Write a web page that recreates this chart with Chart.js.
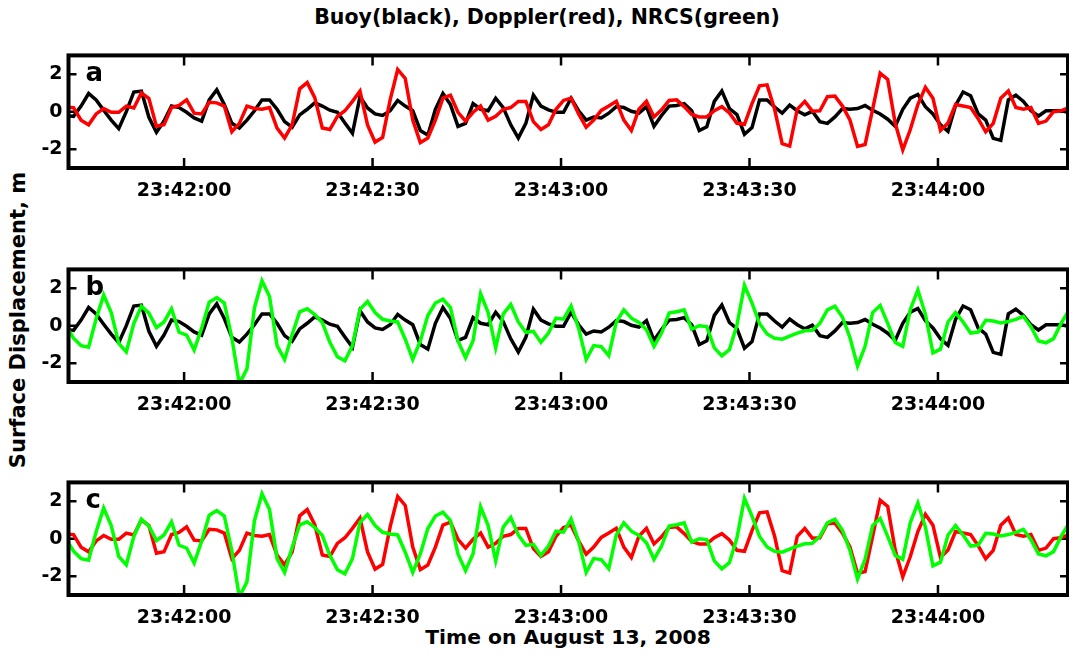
<!DOCTYPE html>
<html>
<head>
<meta charset="utf-8">
<script src="https://cdn.jsdelivr.net/npm/chart.js@4.4.1/dist/chart.umd.min.js"></script>
<style>
  body { margin: 0; background: #fff; width: 1069px; height: 654px; overflow: hidden; position: relative;
         font-family: "DejaVu Sans", sans-serif; font-weight: bold; color: #000; }
  canvas { position: absolute; left: 0; }
  #titulo { position: absolute; top: 7px; left: 0; width: 1094px; text-align: center; font-size: 20.5px; line-height: 20px; white-space: nowrap; }
  #ejeX { position: absolute; top: 627px; left: 0; width: 1136px; text-align: center; font-size: 20.3px; line-height: 20px; white-space: nowrap; }
  #ejeY { position: absolute; left: 18px; top: 320px; font-size: 21px; line-height: 21px; white-space: nowrap;
          transform: translate(-50%, -50%) rotate(-90deg); }
</style>
</head>
<body>
<div id="titulo">Buoy(black), Doppler(red), NRCS(green)</div>
<div id="ejeY">Surface Displacement, m</div>
<div id="ejeX">Time on August 13, 2008</div>
<canvas id="panelA" width="1069" height="170" style="top:38px"></canvas>
<canvas id="panelB" width="1069" height="170" style="top:252px"></canvas>
<canvas id="panelC" width="1069" height="170" style="top:465px"></canvas>
<script>
// seconds after 23:41:40, one sample every 1.2 s
const t0 = 1.2;
const dt = 1.2;

const xTickSec = [20, 50, 80, 110, 140];
const xTickLabels = ['23:42:00', '23:42:30', '23:43:00', '23:43:30', '23:44:00'];
const yTicks = [-2, 0, 2];

// buoy record (black)
const buoy = [
  -0.2, -0.25, 0.3, 0.97, 0.63, 0.08, -0.45, -0.9, 0.0, 1.05,
  1.1, -0.3, -1.1, -0.5, 0.3, 0.22, -0.03, -0.33, -0.5, 0.63,
  1.17, 0.38, -0.62, -0.87, -0.45, 0.05, 0.63, 0.63, 0.13, -0.53,
  -0.83, -0.17, 0.13, 0.47, 0.3, 0.08, -0.03, -0.6, -1.15, 0.8,
  0.2, -0.12, -0.2, 0.05, 0.6, 0.3, 0.05, -1.0, -1.25, 0.13,
  0.97, 0.38, -0.78, -0.62, 0.43, 0.13, 0.05, 0.72, 0.22, -0.7,
  -1.4, -0.62, 0.88, 0.3, 0.1, -0.03, -0.03, 0.72, 0.05, -0.45,
  -0.28, -0.33, -0.08, 0.27, 0.22, 0.02, -0.07, 0.27, -0.78, -0.2,
  0.3, 0.33, 0.43, 0.05, -1.0, -0.8, 0.55, 1.1, 0.17, -0.15,
  -1.2, -0.85, 0.63, 0.63, 0.25, -0.08, 0.35, 0.05, -0.17, 0.02,
  -0.53, -0.62, -0.28, 0.17, 0.13, 0.17, 0.33, 0.08, -0.12, -0.4,
  -0.78, 0.13, 0.72, 0.92, 0.27, -0.12, -0.7, -1.05, 0.33, 1.05,
  0.85, -0.12, -0.45, -1.42, -1.53, 0.63, 0.88, 0.55, 0.05, -0.23,
  0.05, 0.05, 0.05, -0.03
];

// Doppler estimate (red)
const doppler = [
  0.25, 0.22, -0.45, -0.7, -0.12, 0.17, -0.03, -0.03, 0.3, 0.2,
  1.0, 0.7, -0.78, -0.7, 0.22, 0.33, 0.63, -0.08, -0.12, 0.5,
  0.47, 0.3, -1.07, -0.62, 0.3, 0.17, 0.13, 0.22, -0.87, -1.4,
  -0.7, 1.22, 1.55, 0.75, -0.87, -0.95, -0.25, 0.05, 0.55, 1.1,
  -0.7, -1.62, -1.37, 0.63, 2.25, 1.77, -0.45, -1.65, -1.4, -0.45,
  0.72, 0.88, -0.03, -0.5, -0.03, 0.3, -0.45, -0.25, 0.13, 0.22,
  0.55, 0.55, -0.53, -0.95, -0.7, 0.13, 0.6, 0.72, -0.12, -0.83,
  -0.45, 0.07, 0.3, 0.55, -0.45, -1.0, 0.13, 0.55, -0.28, 0.1,
  0.6, 0.63, 0.27, -0.15, -0.28, -0.28, 0.05, 0.27, -0.07, -0.62,
  -0.67, 0.43, 1.38, 1.43, 0.13, -1.7, -1.83, 0.13, 0.55, 0.03,
  0.05, 0.8, 0.83, 0.3, -0.45, -1.85, -1.75, 0.13, 2.05, 1.72,
  -0.62, -2.03, -0.95, 0.38, 1.3, 0.72, -1.0, -0.6, 0.38, 0.3,
  0.22, -0.37, -1.07, -0.62, 0.72, 1.1, 0.22, 0.13, 0.22, -0.62,
  -0.5, 0.0, 0.05, 0.22
];

// NRCS estimate (green)
const nrcs = [
  0.0, -0.67, -1.06, -1.15, 0.37, 1.63, 0.7, -0.95, -1.4, 0.12,
  1.04, 0.67, -0.1, 0.2, 0.9, -0.35, -0.5, -1.3, -0.13, 1.25,
  1.5, 1.21, -0.64, -3.1, -2.3, 0.96, 2.4, 1.55, -1.06, -1.8,
  -0.47, 0.74, 0.9, 0.6, 0.17, -0.89, -1.65, -1.87, -1.06, 0.87,
  1.29, 0.7, 0.34, 0.25, 0.2, -0.72, -1.8, -0.81, 0.54, 1.21,
  1.41, 0.96, -0.81, -1.7, -0.8, 1.7, 0.7, -1.18, 0.62, 1.13,
  0.2, -0.35, -0.3, -0.89, -0.39, 0.4, 0.35, 1.05, -0.13, -1.8,
  -1.06, -1.11, -1.6, 0.2, 0.84, 0.4, 0.17, -0.22, -1.1, -0.39,
  0.67, 0.74, 0.84, -0.18, 0.0, -0.05, -1.18, -1.61, -1.28, 0.03,
  2.15, 1.2, 0.12, -0.44, -0.67, -0.72, -0.55, -0.4, -0.27, -0.25,
  0.12, 0.84, 1.04, 0.45, -0.64, -2.15, -1.1, 0.7, 1.08, 0.12,
  -0.89, -1.1, 0.87, 1.9, 0.62, -1.45, -1.25, 0.2, 0.7, 0.2,
  -0.39, -0.34, 0.29, 0.25, 0.15, 0.22, 0.34, 0.5, -0.05, -0.81,
  -0.91, -0.69, 0.12, 0.79
];

const BLACK = '#000000';
const RED = '#ff0000';
const GREEN = '#00ff00';

const pts = arr => arr.map((v, i) => ({ x: t0 + i * dt, y: v }));

// box, inward ticks and panel letter
const marco = {
  id: 'marco',
  beforeDatasetsDraw(chart) {
    const { ctx, chartArea: a, scales: { x, y } } = chart;
    ctx.save();
    ctx.strokeStyle = '#000';
    ctx.lineWidth = 2.5;
    ctx.beginPath();
    xTickSec.forEach(v => {
      const px = x.getPixelForValue(v);
      ctx.moveTo(px, a.top); ctx.lineTo(px, a.top + 10);
      ctx.moveTo(px, a.bottom); ctx.lineTo(px, a.bottom - 10);
    });
    yTicks.forEach(v => {
      const py = y.getPixelForValue(v);
      ctx.moveTo(a.left, py); ctx.lineTo(a.left + 8, py);
      ctx.moveTo(a.right, py); ctx.lineTo(a.right - 8, py);
    });
    ctx.stroke();
    ctx.restore();
  },
  afterDatasetsDraw(chart, args, opts) {
    const { ctx, chartArea: a } = chart;
    ctx.save();
    ctx.strokeStyle = '#000';
    ctx.lineWidth = 4;
    ctx.strokeRect(a.left, a.top, a.right - a.left, a.bottom - a.top);
    ctx.fillStyle = '#000';
    ctx.font = 'bold 26px "DejaVu Sans"';
    ctx.textBaseline = 'alphabetic';
    ctx.fillText(opts.letra, a.left + 17, a.top + 26);
    ctx.restore();
  }
};

// the first series in the list is drawn last, on top
function panel(id, letra, series) {
  return new Chart(document.getElementById(id), {
    type: 'line',
    data: {
      datasets: series.map(s => ({
        data: pts(s.data),
        borderColor: s.color,
        borderWidth: 3.5,
        pointRadius: 0,
        tension: 0,
        fill: false
      }))
    },
    options: {
      responsive: false,
      animation: false,
      devicePixelRatio: 1,
      layout: { padding: { top: 10, right: 1, left: 0, bottom: 0 } },
      plugins: { legend: { display: false }, tooltip: { enabled: false }, marco: { letra: letra } },
      scales: {
        x: {
          type: 'linear',
          min: 1.6,
          max: 160.7,
          grid: { display: false, drawTicks: false },
          border: { display: false },
          afterBuildTicks: s => { s.ticks = xTickSec.map(v => ({ value: v })); },
          afterFit: s => { s.height = 40; },
          ticks: {
            autoSkip: false,
            maxRotation: 0,
            padding: 12,
            color: '#000',
            font: { family: 'DejaVu Sans', size: 19, weight: 'bold' },
            callback: (v, i) => xTickLabels[i]
          }
        },
        y: {
          min: -3,
          max: 3,
          grid: { display: false, drawTicks: false },
          border: { display: false },
          afterBuildTicks: s => { s.ticks = yTicks.map(v => ({ value: v })); },
          afterFit: s => { s.width = 68.5; },
          ticks: {
            padding: 6,
            color: '#000',
            font: { family: 'DejaVu Sans', size: 19, weight: 'bold' }
          }
        }
      }
    },
    plugins: [marco]
  });
}

panel('panelA', 'a', [{ data: doppler, color: RED }, { data: buoy, color: BLACK }]);
panel('panelB', 'b', [{ data: nrcs, color: GREEN }, { data: buoy, color: BLACK }]);
panel('panelC', 'c', [{ data: nrcs, color: GREEN }, { data: doppler, color: RED }]);
</script>
</body>
</html>
